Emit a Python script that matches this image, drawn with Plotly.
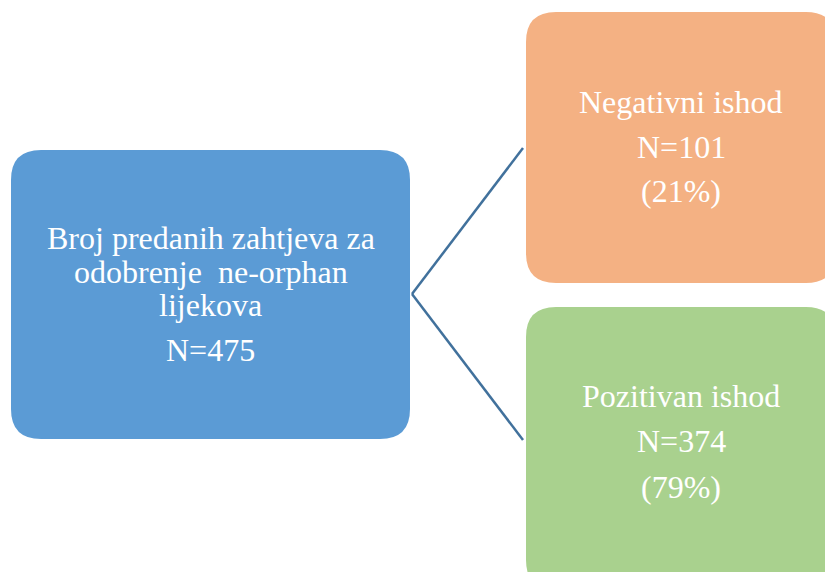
import plotly.graph_objects as go

# Diagram content
root_label = ["Broj predanih zahtjeva za", "odobrenje  ne-orphan", "lijekova"]
root_n = 475
outcome_labels = ["Negativni ishod", "Pozitivan ishod"]
outcome_n = [101, 374]
outcome_pct = [21, 79]

# Layout (pixel space, y measured from top)
W, H = 825, 572
FONT = "Liberation Serif, Times New Roman, serif"
root_box = dict(x0=11, x1=410, y0=150, y1=439, color="#5B9BD5")
outcome_boxes = [
    dict(x0=526, x1=836, y0=12, y1=283, color="#F4B183"),
    dict(x0=526, x1=836, y0=307, y1=590, color="#A9D18E"),
]
line_color = "#41719C"


def rounded_rect(x0, y0, x1, y1, r):
    return (f"M {x0+r},{y0} L {x1-r},{y0} Q {x1},{y0} {x1},{y0+r} "
            f"L {x1},{y1-r} Q {x1},{y1} {x1-r},{y1} "
            f"L {x0+r},{y1} Q {x0},{y1} {x0},{y1-r} "
            f"L {x0},{y0+r} Q {x0},{y0} {x0+r},{y0} Z")


shapes = []
for b in [root_box] + outcome_boxes:
    shapes.append(dict(type="path", xref="x", yref="y",
                       path=rounded_rect(b["x0"], b["y0"], b["x1"], b["y1"], 30),
                       fillcolor=b["color"], line=dict(width=0), layer="below"))

fig = go.Figure()

# connectors from root box to the two outcomes
vertex = (412, 294)
ends = [(523, 148), (523, 440)]
for ex, ey in ends:
    fig.add_trace(go.Scatter(x=[vertex[0], ex], y=[vertex[1], ey], mode="lines",
                             line=dict(color=line_color, width=2.5),
                             hoverinfo="skip", showlegend=False))

annotations = []


def add_text(text, x, y):
    annotations.append(dict(text=text, x=x, y=y, xref="x", yref="y",
                            showarrow=False, xanchor="center", yanchor="middle",
                            font=dict(family=FONT, size=32, color="white")))


root_cx = (root_box["x0"] + root_box["x1"]) / 2
for txt, y in zip(root_label + [f"N={root_n}"], [238, 272, 305, 350]):
    add_text(txt, root_cx, y)

line_ys = [[102, 147, 191], [396, 441, 487]]
for b, lab, n, p, ys in zip(outcome_boxes, outcome_labels, outcome_n, outcome_pct, line_ys):
    cx = 681
    for txt, y in zip([lab, f"N={n}", f"({p}%)"], ys):
        add_text(txt, cx, y)

fig.update_layout(
    width=W, height=H,
    margin=dict(l=0, r=0, t=0, b=0),
    paper_bgcolor="white", plot_bgcolor="white",
    xaxis=dict(range=[0, W], visible=False, fixedrange=True),
    yaxis=dict(range=[H, 0], visible=False, fixedrange=True),
    shapes=shapes,
    annotations=annotations,
    showlegend=False,
)

# drop the default page margin so the figure fills the window
fig.write_html("out.html", config={"displayModeBar": False},
               post_script="document.body.style.margin='0';document.body.style.overflow='hidden';")
